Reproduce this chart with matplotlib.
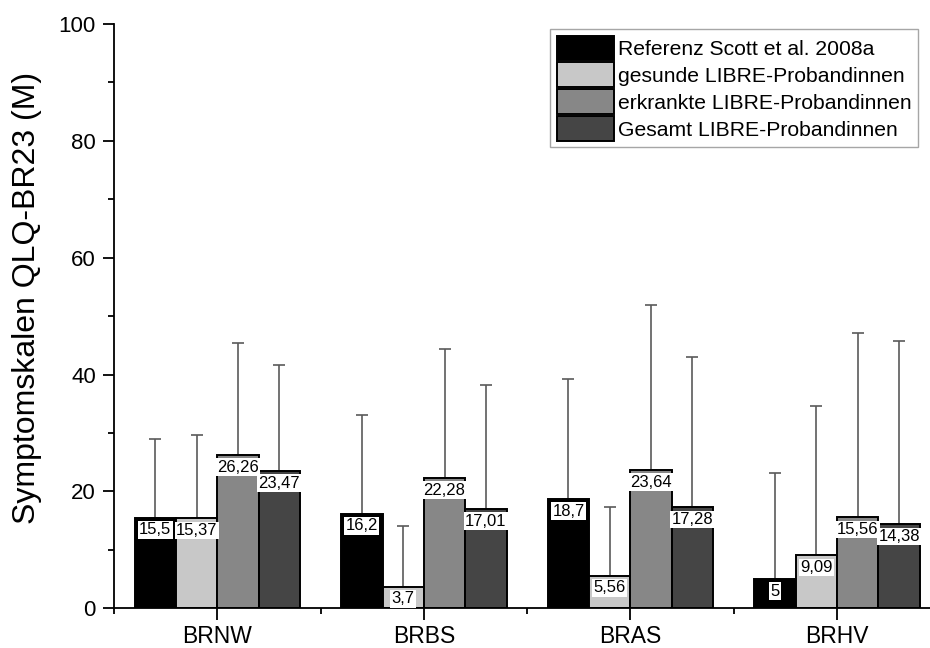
import matplotlib
matplotlib.use("Agg")
import matplotlib.pyplot as plt
import numpy as np

plt.rcParams['font.family'] = ['Liberation Sans', 'DejaVu Sans']

categories = ["BRNW", "BRBS", "BRAS", "BRHV"]
series_names = ["Referenz Scott et al. 2008a", "gesunde LIBRE-Probandinnen",
                "erkrankte LIBRE-Probandinnen", "Gesamt LIBRE-Probandinnen"]
referenz = [15.5, 16.2, 18.7, 5.0]
gesund = [15.37, 3.7, 5.56, 9.09]
erkrankt = [26.26, 22.28, 23.64, 15.56]
gesamt = [23.47, 17.01, 17.28, 14.38]
labels_ref = ["15,5", "16,2", "18,7", "5"]
labels_ges = ["15,37", "3,7", "5,56", "9,09"]
labels_erk = ["26,26", "22,28", "23,64", "15,56"]
labels_tot = ["23,47", "17,01", "17,28", "14,38"]
err_ref = [13.4, 16.8, 20.5, 18.2]
err_ges = [14.2, 10.4, 11.7, 25.5]
err_erk = [19.2, 22.1, 28.3, 31.5]
err_tot = [18.1, 21.2, 25.8, 31.4]

colors = ["#000000", "#c8c8c8", "#878787", "#454545"]
values = [referenz, gesund, erkrankt, gesamt]
labels = [labels_ref, labels_ges, labels_erk, labels_tot]
errs = [err_ref, err_ges, err_erk, err_tot]

fig = plt.figure(figsize=(9.3, 6.48), dpi=100)
ax = fig.add_axes([0.1226, 0.0613, 0.8774, 0.9017])

x = np.arange(len(categories))
w = 0.2
for i in range(4):
    pos = x + (i - 1.5) * w
    ax.bar(pos, values[i], width=w, color=colors[i], edgecolor="black",
           linewidth=1.4, label=series_names[i], zorder=2)
    ax.errorbar(pos, values[i], yerr=[np.zeros(4), errs[i]], fmt="none",
                ecolor="#5a5a5a", elinewidth=1.2, capsize=4, capthick=1.2, zorder=1)
    for p, v, t in zip(pos, values[i], labels[i]):
        ax.text(p, v - 0.8, t, ha="center", va="top", fontsize=12, zorder=4,
                bbox=dict(boxstyle="square,pad=0.08", facecolor="white", edgecolor="none"))

ax.set_xlim(-0.5, 3.45)
ax.set_ylim(0, 100)
ax.set_xticks(x)
ax.set_xticklabels(categories, fontsize=16.5)
ax.set_xticks(np.arange(-0.5, 3.5, 1.0), minor=True)
ax.set_yticks(np.arange(0, 101, 20))
ax.set_yticks(np.arange(10, 100, 20), minor=True)
ax.tick_params(axis="y", which="major", labelsize=16, length=8, width=1.3, direction="out", pad=5)
ax.tick_params(axis="y", which="minor", length=4.5, width=1.3, direction="out")
ax.tick_params(axis="x", which="major", length=8.5, width=1.3, direction="out", pad=3.5)
ax.tick_params(axis="x", which="minor", length=4.5, width=1.3, direction="out")
ax.spines["top"].set_visible(False)
ax.spines["right"].set_visible(False)
ax.spines["left"].set_linewidth(1.3)
ax.spines["bottom"].set_linewidth(1.3)
ax.set_ylabel("Symptomskalen QLQ-BR23 (M)", fontsize=23)
ax.yaxis.set_label_coords((27 - 114) / 816, (608.3 - 298) / 584.3)
ax.yaxis.label.set_va("center")
ax.yaxis.label.set_ha("center")

leg = ax.legend(loc="upper right", bbox_to_anchor=(0.985, 0.991), borderaxespad=0,
                fontsize=15.2, frameon=True, fancybox=False, edgecolor="#909090",
                handlelength=2.7, handleheight=1.4, handletextpad=0.2,
                labelspacing=0.12, borderpad=0.3)
leg.get_frame().set_linewidth(1.0)
for h in leg.legend_handles:
    h.set_linewidth(1.4)

fig.savefig("out.png", dpi=100)
